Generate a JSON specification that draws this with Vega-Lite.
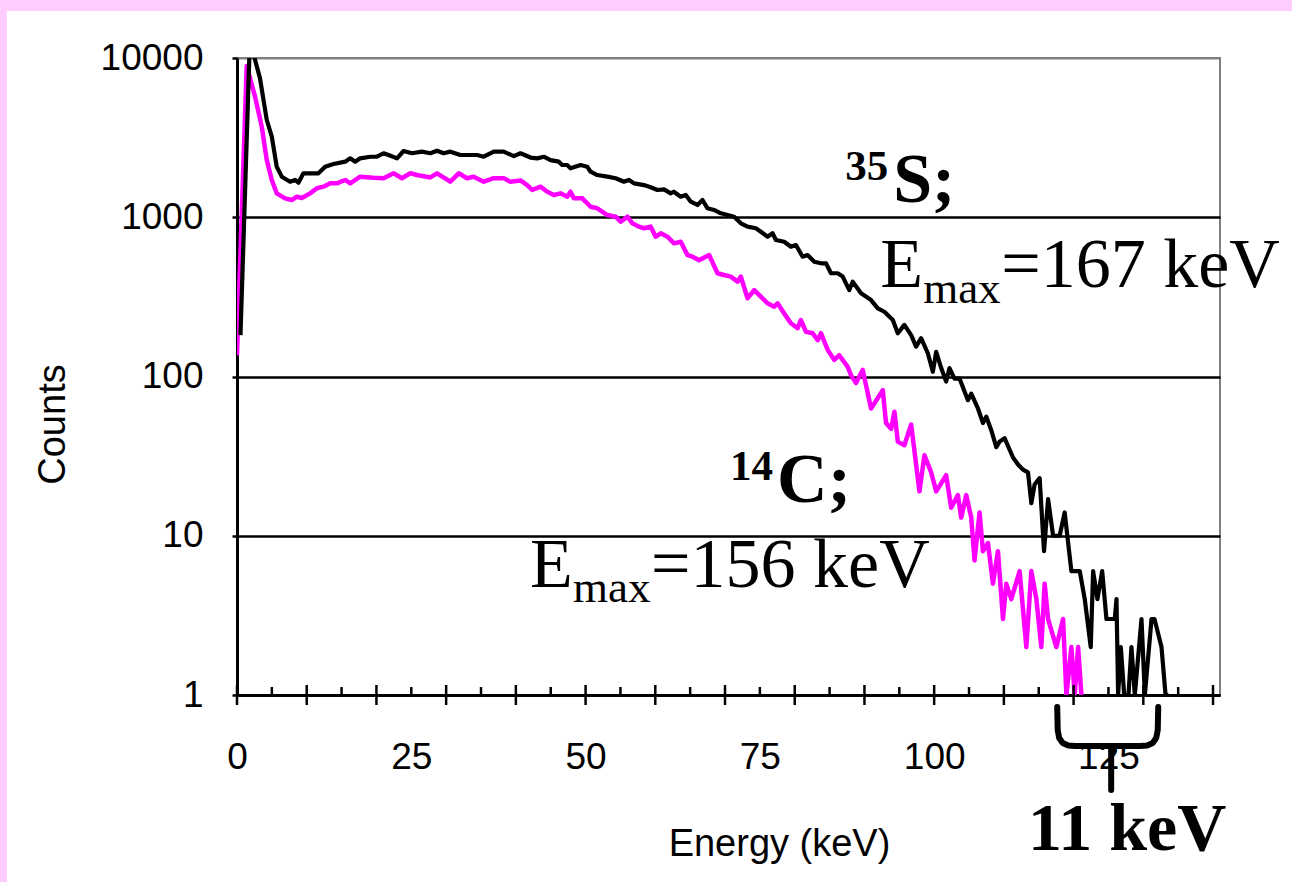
{
  "$schema": "https://vega.github.io/schema/vega-lite/v6.json",
  "width": 983,
  "height": 637,
  "autosize": {"type": "none"},
  "padding": {"left": 237, "top": 58, "right": 72, "bottom": 187},
  "background": "white",
  "config": {
    "view": {"stroke": "#808080", "strokeWidth": 2},
    "axis": {"labelFont": "Liberation Sans", "titleFont": "Liberation Sans", "labelColor": "black", "titleColor": "black"}
  },
  "datasets": {
    "spectra": [
      {"isotope": "35S", "energy": 0.50, "counts": 182},
      {"isotope": "35S", "energy": 1.80, "counts": 11200},
      {"isotope": "35S", "energy": 2.44, "counts": 10300},
      {"isotope": "35S", "energy": 3.30, "counts": 7450},
      {"isotope": "35S", "energy": 4.27, "counts": 4080},
      {"isotope": "35S", "energy": 4.99, "counts": 3205},
      {"isotope": "35S", "energy": 5.70, "counts": 2076},
      {"isotope": "35S", "energy": 6.42, "counts": 1798},
      {"isotope": "35S", "energy": 7.61, "counts": 1672},
      {"isotope": "35S", "energy": 8.33, "counts": 1714},
      {"isotope": "35S", "energy": 8.81, "counts": 1648},
      {"isotope": "35S", "energy": 9.53, "counts": 1888},
      {"isotope": "35S", "energy": 11.68, "counts": 1888},
      {"isotope": "35S", "energy": 12.64, "counts": 2076},
      {"isotope": "35S", "energy": 13.84, "counts": 2158},
      {"isotope": "35S", "energy": 15.52, "counts": 2234},
      {"isotope": "35S", "energy": 16.24, "counts": 2344},
      {"isotope": "35S", "energy": 16.95, "counts": 2234},
      {"isotope": "35S", "energy": 17.67, "counts": 2344},
      {"isotope": "35S", "energy": 19.11, "counts": 2399},
      {"isotope": "35S", "energy": 20.07, "counts": 2399},
      {"isotope": "35S", "energy": 21.02, "counts": 2523},
      {"isotope": "35S", "energy": 21.74, "counts": 2460},
      {"isotope": "35S", "energy": 22.95, "counts": 2344},
      {"isotope": "35S", "energy": 23.89, "counts": 2606},
      {"isotope": "35S", "energy": 25.10, "counts": 2523},
      {"isotope": "35S", "energy": 26.54, "counts": 2582},
      {"isotope": "35S", "energy": 27.73, "counts": 2523},
      {"isotope": "35S", "energy": 28.69, "counts": 2618},
      {"isotope": "35S", "energy": 29.64, "counts": 2523},
      {"isotope": "35S", "energy": 30.60, "counts": 2582},
      {"isotope": "35S", "energy": 32.04, "counts": 2460},
      {"isotope": "35S", "energy": 34.44, "counts": 2460},
      {"isotope": "35S", "energy": 35.39, "counts": 2399},
      {"isotope": "35S", "energy": 36.83, "counts": 2582},
      {"isotope": "35S", "energy": 38.26, "counts": 2582},
      {"isotope": "35S", "energy": 39.70, "counts": 2420},
      {"isotope": "35S", "energy": 40.66, "counts": 2523},
      {"isotope": "35S", "energy": 42.10, "counts": 2371},
      {"isotope": "35S", "energy": 43.06, "counts": 2344},
      {"isotope": "35S", "energy": 44.01, "counts": 2399},
      {"isotope": "35S", "energy": 44.97, "counts": 2286},
      {"isotope": "35S", "energy": 46.16, "counts": 2234},
      {"isotope": "35S", "energy": 46.65, "counts": 2128},
      {"isotope": "35S", "energy": 47.37, "counts": 2128},
      {"isotope": "35S", "energy": 47.84, "counts": 2028},
      {"isotope": "35S", "energy": 49.28, "counts": 2128},
      {"isotope": "35S", "energy": 50.24, "counts": 2076},
      {"isotope": "35S", "energy": 50.72, "counts": 1932},
      {"isotope": "35S", "energy": 51.68, "counts": 1841},
      {"isotope": "35S", "energy": 53.12, "counts": 1798},
      {"isotope": "35S", "energy": 54.31, "counts": 1758},
      {"isotope": "35S", "energy": 55.50, "counts": 1672},
      {"isotope": "35S", "energy": 56.22, "counts": 1714},
      {"isotope": "35S", "energy": 56.94, "counts": 1633},
      {"isotope": "35S", "energy": 58.38, "counts": 1592},
      {"isotope": "35S", "energy": 59.34, "counts": 1542},
      {"isotope": "35S", "energy": 60.30, "counts": 1483},
      {"isotope": "35S", "energy": 61.25, "counts": 1497},
      {"isotope": "35S", "energy": 62.21, "counts": 1413},
      {"isotope": "35S", "energy": 62.64, "counts": 1446},
      {"isotope": "35S", "energy": 63.65, "counts": 1346},
      {"isotope": "35S", "energy": 64.37, "counts": 1380},
      {"isotope": "35S", "energy": 65.09, "counts": 1253},
      {"isotope": "35S", "energy": 66.05, "counts": 1194},
      {"isotope": "35S", "energy": 66.77, "counts": 1283},
      {"isotope": "35S", "energy": 67.49, "counts": 1138},
      {"isotope": "35S", "energy": 68.43, "counts": 1111},
      {"isotope": "35S", "energy": 69.40, "counts": 1059},
      {"isotope": "35S", "energy": 70.36, "counts": 1033},
      {"isotope": "35S", "energy": 71.31, "counts": 1008},
      {"isotope": "35S", "energy": 72.27, "counts": 916},
      {"isotope": "35S", "energy": 73.23, "counts": 873},
      {"isotope": "35S", "energy": 74.43, "counts": 853},
      {"isotope": "35S", "energy": 75.14, "counts": 811},
      {"isotope": "35S", "energy": 76.11, "counts": 755},
      {"isotope": "35S", "energy": 76.82, "counts": 793},
      {"isotope": "35S", "energy": 77.30, "counts": 720},
      {"isotope": "35S", "energy": 78.49, "counts": 702},
      {"isotope": "35S", "energy": 79.45, "counts": 653},
      {"isotope": "35S", "energy": 80.17, "counts": 669},
      {"isotope": "35S", "energy": 81.13, "counts": 565},
      {"isotope": "35S", "energy": 81.85, "counts": 579},
      {"isotope": "35S", "energy": 82.80, "counts": 526},
      {"isotope": "35S", "energy": 83.76, "counts": 514},
      {"isotope": "35S", "energy": 84.48, "counts": 514},
      {"isotope": "35S", "energy": 85.20, "counts": 445},
      {"isotope": "35S", "energy": 86.16, "counts": 445},
      {"isotope": "35S", "energy": 86.88, "counts": 424},
      {"isotope": "35S", "energy": 87.83, "counts": 349},
      {"isotope": "35S", "energy": 88.32, "counts": 394},
      {"isotope": "35S", "energy": 89.51, "counts": 333},
      {"isotope": "35S", "energy": 90.95, "counts": 302},
      {"isotope": "35S", "energy": 91.91, "counts": 268},
      {"isotope": "35S", "energy": 92.86, "counts": 255},
      {"isotope": "35S", "energy": 94.07, "counts": 226},
      {"isotope": "35S", "energy": 94.78, "counts": 187},
      {"isotope": "35S", "energy": 95.73, "counts": 211},
      {"isotope": "35S", "energy": 96.70, "counts": 182},
      {"isotope": "35S", "energy": 97.41, "counts": 154},
      {"isotope": "35S", "energy": 98.13, "counts": 174},
      {"isotope": "35S", "energy": 99.09, "counts": 140},
      {"isotope": "35S", "energy": 99.81, "counts": 107},
      {"isotope": "35S", "energy": 100.29, "counts": 143},
      {"isotope": "35S", "energy": 101.01, "counts": 113},
      {"isotope": "35S", "energy": 101.72, "counts": 93},
      {"isotope": "35S", "energy": 102.20, "counts": 113},
      {"isotope": "35S", "energy": 102.92, "counts": 97},
      {"isotope": "35S", "energy": 103.64, "counts": 97},
      {"isotope": "35S", "energy": 104.84, "counts": 71},
      {"isotope": "35S", "energy": 105.32, "counts": 78},
      {"isotope": "35S", "energy": 106.28, "counts": 63},
      {"isotope": "35S", "energy": 107.00, "counts": 51},
      {"isotope": "35S", "energy": 107.47, "counts": 56},
      {"isotope": "35S", "energy": 108.19, "counts": 46},
      {"isotope": "35S", "energy": 108.91, "counts": 36},
      {"isotope": "35S", "energy": 109.38, "counts": 39},
      {"isotope": "35S", "energy": 110.10, "counts": 41},
      {"isotope": "35S", "energy": 111.31, "counts": 31},
      {"isotope": "35S", "energy": 112.03, "counts": 28},
      {"isotope": "35S", "energy": 112.74, "counts": 26},
      {"isotope": "35S", "energy": 113.46, "counts": 25},
      {"isotope": "35S", "energy": 113.94, "counts": 16},
      {"isotope": "35S", "energy": 114.41, "counts": 21},
      {"isotope": "35S", "energy": 115.13, "counts": 23},
      {"isotope": "35S", "energy": 115.76, "counts": 8},
      {"isotope": "35S", "energy": 116.34, "counts": 17},
      {"isotope": "35S", "energy": 117.06, "counts": 10},
      {"isotope": "35S", "energy": 118.00, "counts": 10},
      {"isotope": "35S", "energy": 118.72, "counts": 14},
      {"isotope": "35S", "energy": 119.68, "counts": 6},
      {"isotope": "35S", "energy": 120.88, "counts": 6},
      {"isotope": "35S", "energy": 121.60, "counts": 4},
      {"isotope": "35S", "energy": 122.46, "counts": 2},
      {"isotope": "35S", "energy": 122.80, "counts": 6},
      {"isotope": "35S", "energy": 123.42, "counts": 4},
      {"isotope": "35S", "energy": 124.10, "counts": 6},
      {"isotope": "35S", "energy": 124.71, "counts": 3},
      {"isotope": "35S", "energy": 125.91, "counts": 3},
      {"isotope": "35S", "energy": 126.15, "counts": 4},
      {"isotope": "35S", "energy": 126.39, "counts": 1},
      {"isotope": "35S", "energy": 126.77, "counts": 2},
      {"isotope": "35S", "energy": 127.26, "counts": 1},
      {"isotope": "35S", "energy": 127.87, "counts": 1},
      {"isotope": "35S", "energy": 128.30, "counts": 2},
      {"isotope": "35S", "energy": 128.78, "counts": 1},
      {"isotope": "35S", "energy": 129.74, "counts": 3},
      {"isotope": "35S", "energy": 130.22, "counts": 1},
      {"isotope": "35S", "energy": 131.18, "counts": 3},
      {"isotope": "35S", "energy": 131.60, "counts": 3},
      {"isotope": "35S", "energy": 132.61, "counts": 2},
      {"isotope": "35S", "energy": 133.19, "counts": 1},
      {"isotope": "35S", "energy": 133.60, "counts": 1},
      {"isotope": "14C", "energy": 0.00, "counts": 136},
      {"isotope": "14C", "energy": 1.39, "counts": 8900},
      {"isotope": "14C", "energy": 2.59, "counts": 5715},
      {"isotope": "14C", "energy": 3.55, "counts": 3707},
      {"isotope": "14C", "energy": 4.27, "counts": 2286},
      {"isotope": "14C", "energy": 4.99, "counts": 1714},
      {"isotope": "14C", "energy": 5.70, "counts": 1413},
      {"isotope": "14C", "energy": 6.90, "counts": 1315},
      {"isotope": "14C", "energy": 7.86, "counts": 1283},
      {"isotope": "14C", "energy": 8.58, "counts": 1346},
      {"isotope": "14C", "energy": 9.30, "counts": 1321},
      {"isotope": "14C", "energy": 10.49, "counts": 1413},
      {"isotope": "14C", "energy": 11.45, "counts": 1521},
      {"isotope": "14C", "energy": 12.40, "counts": 1556},
      {"isotope": "14C", "energy": 13.36, "counts": 1633},
      {"isotope": "14C", "energy": 14.32, "counts": 1633},
      {"isotope": "14C", "energy": 15.52, "counts": 1714},
      {"isotope": "14C", "energy": 16.24, "counts": 1633},
      {"isotope": "14C", "energy": 17.67, "counts": 1798},
      {"isotope": "14C", "energy": 19.58, "counts": 1771},
      {"isotope": "14C", "energy": 21.02, "counts": 1758},
      {"isotope": "14C", "energy": 22.46, "counts": 1888},
      {"isotope": "14C", "energy": 23.66, "counts": 1758},
      {"isotope": "14C", "energy": 24.86, "counts": 1888},
      {"isotope": "14C", "energy": 25.82, "counts": 1841},
      {"isotope": "14C", "energy": 27.73, "counts": 1778},
      {"isotope": "14C", "energy": 28.69, "counts": 1888},
      {"isotope": "14C", "energy": 30.60, "counts": 1672},
      {"isotope": "14C", "energy": 31.80, "counts": 1888},
      {"isotope": "14C", "energy": 33.00, "counts": 1758},
      {"isotope": "14C", "energy": 33.95, "counts": 1798},
      {"isotope": "14C", "energy": 35.39, "counts": 1672},
      {"isotope": "14C", "energy": 36.83, "counts": 1758},
      {"isotope": "14C", "energy": 38.26, "counts": 1758},
      {"isotope": "14C", "energy": 39.22, "counts": 1672},
      {"isotope": "14C", "energy": 40.66, "counts": 1702},
      {"isotope": "14C", "energy": 41.62, "counts": 1592},
      {"isotope": "14C", "energy": 42.34, "counts": 1483},
      {"isotope": "14C", "energy": 43.53, "counts": 1556},
      {"isotope": "14C", "energy": 44.50, "counts": 1446},
      {"isotope": "14C", "energy": 45.45, "counts": 1380},
      {"isotope": "14C", "energy": 46.41, "counts": 1413},
      {"isotope": "14C", "energy": 47.37, "counts": 1346},
      {"isotope": "14C", "energy": 47.84, "counts": 1446},
      {"isotope": "14C", "energy": 48.32, "counts": 1315},
      {"isotope": "14C", "energy": 49.53, "counts": 1315},
      {"isotope": "14C", "energy": 50.72, "counts": 1164},
      {"isotope": "14C", "energy": 51.68, "counts": 1138},
      {"isotope": "14C", "energy": 53.12, "counts": 1033},
      {"isotope": "14C", "energy": 54.31, "counts": 1008},
      {"isotope": "14C", "energy": 55.03, "counts": 937},
      {"isotope": "14C", "energy": 55.99, "counts": 1008},
      {"isotope": "14C", "energy": 56.71, "counts": 916},
      {"isotope": "14C", "energy": 57.66, "counts": 873},
      {"isotope": "14C", "energy": 58.38, "counts": 853},
      {"isotope": "14C", "energy": 59.34, "counts": 873},
      {"isotope": "14C", "energy": 60.06, "counts": 755},
      {"isotope": "14C", "energy": 60.78, "counts": 793},
      {"isotope": "14C", "energy": 61.74, "counts": 755},
      {"isotope": "14C", "energy": 62.69, "counts": 686},
      {"isotope": "14C", "energy": 63.65, "counts": 702},
      {"isotope": "14C", "energy": 64.61, "counts": 579},
      {"isotope": "14C", "energy": 65.33, "counts": 565},
      {"isotope": "14C", "energy": 66.28, "counts": 538},
      {"isotope": "14C", "energy": 67.72, "counts": 579},
      {"isotope": "14C", "energy": 68.92, "counts": 445},
      {"isotope": "14C", "energy": 69.87, "counts": 434},
      {"isotope": "14C", "energy": 70.83, "counts": 424},
      {"isotope": "14C", "energy": 71.80, "counts": 394},
      {"isotope": "14C", "energy": 72.27, "counts": 424},
      {"isotope": "14C", "energy": 73.23, "counts": 310},
      {"isotope": "14C", "energy": 74.18, "counts": 349},
      {"isotope": "14C", "energy": 75.14, "counts": 317},
      {"isotope": "14C", "energy": 76.11, "counts": 288},
      {"isotope": "14C", "energy": 77.05, "counts": 274},
      {"isotope": "14C", "energy": 77.54, "counts": 288},
      {"isotope": "14C", "energy": 78.49, "counts": 249},
      {"isotope": "14C", "energy": 79.45, "counts": 216},
      {"isotope": "14C", "energy": 80.42, "counts": 201},
      {"isotope": "14C", "energy": 80.89, "counts": 226},
      {"isotope": "14C", "energy": 81.61, "counts": 191},
      {"isotope": "14C", "energy": 82.57, "counts": 187},
      {"isotope": "14C", "energy": 83.29, "counts": 169},
      {"isotope": "14C", "energy": 83.76, "counts": 187},
      {"isotope": "14C", "energy": 84.73, "counts": 147},
      {"isotope": "14C", "energy": 85.67, "counts": 127},
      {"isotope": "14C", "energy": 86.39, "counts": 136},
      {"isotope": "14C", "energy": 87.60, "counts": 115},
      {"isotope": "14C", "energy": 88.07, "counts": 102},
      {"isotope": "14C", "energy": 88.79, "counts": 91},
      {"isotope": "14C", "energy": 89.75, "counts": 110},
      {"isotope": "14C", "energy": 90.95, "counts": 63},
      {"isotope": "14C", "energy": 92.63, "counts": 82},
      {"isotope": "14C", "energy": 93.10, "counts": 51},
      {"isotope": "14C", "energy": 93.82, "counts": 47},
      {"isotope": "14C", "energy": 94.30, "counts": 60},
      {"isotope": "14C", "energy": 94.78, "counts": 39},
      {"isotope": "14C", "energy": 95.73, "counts": 37},
      {"isotope": "14C", "energy": 96.70, "counts": 50},
      {"isotope": "14C", "energy": 97.89, "counts": 19},
      {"isotope": "14C", "energy": 98.61, "counts": 32},
      {"isotope": "14C", "energy": 99.57, "counts": 25},
      {"isotope": "14C", "energy": 100.29, "counts": 19},
      {"isotope": "14C", "energy": 101.72, "counts": 24},
      {"isotope": "14C", "energy": 102.44, "counts": 15},
      {"isotope": "14C", "energy": 103.40, "counts": 18},
      {"isotope": "14C", "energy": 103.88, "counts": 13},
      {"isotope": "14C", "energy": 104.60, "counts": 18},
      {"isotope": "14C", "energy": 105.32, "counts": 13},
      {"isotope": "14C", "energy": 105.79, "counts": 7},
      {"isotope": "14C", "energy": 106.51, "counts": 14},
      {"isotope": "14C", "energy": 107.00, "counts": 8},
      {"isotope": "14C", "energy": 107.72, "counts": 9},
      {"isotope": "14C", "energy": 108.43, "counts": 5},
      {"isotope": "14C", "energy": 109.15, "counts": 8},
      {"isotope": "14C", "energy": 109.87, "counts": 3},
      {"isotope": "14C", "energy": 110.34, "counts": 5},
      {"isotope": "14C", "energy": 111.06, "counts": 4},
      {"isotope": "14C", "energy": 112.26, "counts": 6},
      {"isotope": "14C", "energy": 113.22, "counts": 2},
      {"isotope": "14C", "energy": 113.94, "counts": 6},
      {"isotope": "14C", "energy": 114.66, "counts": 4},
      {"isotope": "14C", "energy": 115.37, "counts": 2},
      {"isotope": "14C", "energy": 115.85, "counts": 5},
      {"isotope": "14C", "energy": 116.34, "counts": 3},
      {"isotope": "14C", "energy": 117.53, "counts": 2},
      {"isotope": "14C", "energy": 118.49, "counts": 3},
      {"isotope": "14C", "energy": 118.97, "counts": 1},
      {"isotope": "14C", "energy": 119.68, "counts": 2},
      {"isotope": "14C", "energy": 120.16, "counts": 1},
      {"isotope": "14C", "energy": 120.65, "counts": 2},
      {"isotope": "14C", "energy": 121.12, "counts": 1}
    ],
    "ticks": [
      {"e": 0}, {"e": 5}, {"e": 10}, {"e": 15}, {"e": 20}, {"e": 25}, {"e": 30}, {"e": 35}, {"e": 40}, {"e": 45},
      {"e": 50}, {"e": 55}, {"e": 60}, {"e": 65}, {"e": 70}, {"e": 75}, {"e": 80}, {"e": 85}, {"e": 90}, {"e": 95},
      {"e": 100}, {"e": 105}, {"e": 110}, {"e": 115}, {"e": 120}, {"e": 125}, {"e": 130}, {"e": 135}, {"e": 140}
    ],
    "brace": [
      {"part": "arc", "o": 1, "e": 117.65, "c": 0.8406},
      {"part": "arc", "o": 2, "e": 117.72, "c": 0.6028},
      {"part": "arc", "o": 3, "e": 117.93, "c": 0.5370},
      {"part": "arc", "o": 4, "e": 118.44, "c": 0.4995},
      {"part": "arc", "o": 5, "e": 119.23, "c": 0.4819},
      {"part": "arc", "o": 6, "e": 120.23, "c": 0.4784},
      {"part": "arc", "o": 7, "e": 129.56, "c": 0.4784},
      {"part": "arc", "o": 8, "e": 130.56, "c": 0.4819},
      {"part": "arc", "o": 9, "e": 131.35, "c": 0.4995},
      {"part": "arc", "o": 10, "e": 131.85, "c": 0.5370},
      {"part": "arc", "o": 11, "e": 132.07, "c": 0.6028},
      {"part": "arc", "o": 12, "e": 132.14, "c": 0.8406},
      {"part": "stem", "o": 1, "e": 125.39, "c": 0.4784},
      {"part": "stem", "o": 2, "e": 125.39, "c": 0.2532}
    ]
  },
  "layer": [
    {
      "data": {"values": [{}]},
      "mark": {"type": "rect", "fill": "#FFCCFF"},
      "encoding": {
        "x": {"datum": -40, "type": "quantitative"},
        "x2": {"datum": 170},
        "y": {"datum": 1000000, "type": "quantitative"},
        "y2": {"datum": 19732}
      }
    },
    {
      "data": {"values": [{}]},
      "mark": {"type": "rect", "fill": "#FFCCFF"},
      "encoding": {
        "x": {"datum": -40, "type": "quantitative"},
        "x2": {"datum": -33.0},
        "y": {"datum": 1000000, "type": "quantitative"},
        "y2": {"datum": 0.000001}
      }
    },
    {
      "data": {"name": "spectra"},
      "transform": [{"filter": "datum.isotope === '14C'"}],
      "mark": {"type": "line", "color": "#FF00FF", "strokeWidth": 4.5, "strokeJoin": "round", "clip": true},
      "encoding": {
        "x": {
          "field": "energy", "type": "quantitative",
          "scale": {"domain": [0, 141], "nice": false, "zero": false},
          "axis": {
            "values": [0, 25, 50, 75, 100, 125], "format": "d", "ticks": false, "grid": false,
            "domainColor": "black", "domainWidth": 3,
            "labelFontSize": 37, "labelPadding": 44, "labelFlush": false, "labelOverlap": false,
            "title": "Energy (keV)", "titleFontSize": 38, "titleFontWeight": "normal",
            "titleX": 542, "titleY": 160, "titleAlign": "center", "titleBaseline": "alphabetic"
          }
        },
        "y": {
          "field": "counts", "type": "quantitative",
          "scale": {"type": "log", "domain": [1, 10000], "nice": false},
          "axis": {
            "values": [1, 10, 100, 1000, 10000], "format": "d",
            "grid": true,
            "gridColor": {"condition": {"test": "datum.value >= 10000", "value": "#808080"}, "value": "black"},
            "gridWidth": {"condition": {"test": "datum.value >= 10000", "value": 2}, "value": 2.5},
            "ticks": true, "tickSize": 5, "tickWidth": 2.5, "tickColor": "black",
            "domainColor": "black", "domainWidth": 3,
            "labelFontSize": 37, "labelPadding": 29, "labelOverlap": false,
            "title": "Counts", "titleFontSize": 38, "titleFontWeight": "normal",
            "titleAngle": -90, "titleX": -184, "titleY": 366, "titleAlign": "center", "titleBaseline": "middle"
          }
        },
        "order": {"field": "energy"}
      }
    },
    {
      "data": {"name": "spectra"},
      "transform": [{"filter": "datum.isotope === '35S'"}],
      "mark": {"type": "line", "color": "black", "strokeWidth": 4.2, "strokeJoin": "round", "clip": true},
      "encoding": {
        "x": {"field": "energy", "type": "quantitative"},
        "y": {"field": "counts", "type": "quantitative"},
        "order": {"field": "energy"}
      }
    },
    {
      "data": {"name": "ticks"},
      "transform": [{"filter": "datum.e % 10 === 0"}],
      "mark": {"type": "tick", "orient": "vertical", "size": 20, "thickness": 2.5, "color": "black", "opacity": 1},
      "encoding": {
        "x": {"field": "e", "type": "quantitative"},
        "y": {"datum": 1, "type": "quantitative"}
      }
    },
    {
      "data": {"name": "ticks"},
      "transform": [{"filter": "datum.e % 10 !== 0"}],
      "mark": {"type": "tick", "orient": "vertical", "size": 8, "thickness": 2.5, "yOffset": -4, "color": "black", "opacity": 1},
      "encoding": {
        "x": {"field": "e", "type": "quantitative"},
        "y": {"datum": 1, "type": "quantitative"}
      }
    },
    {
      "data": {"name": "brace"},
      "mark": {"type": "line", "color": "black", "strokeWidth": 6, "strokeCap": "round", "strokeJoin": "round", "clip": false},
      "encoding": {
        "x": {"field": "e", "type": "quantitative"},
        "y": {"field": "c", "type": "quantitative"},
        "detail": {"field": "part"},
        "order": {"field": "o"}
      }
    },
    {
      "data": {"values": [{}]},
      "mark": {"type": "text", "text": "35", "font": "Liberation Serif", "fontWeight": "bold", "fontSize": 43, "align": "left", "baseline": "alphabetic", "color": "black"},
      "encoding": {"x": {"datum": 87.23, "type": "quantitative"}, "y": {"datum": 1713.5, "type": "quantitative"}}
    },
    {
      "data": {"values": [{}]},
      "mark": {"type": "text", "text": "S;", "font": "Liberation Serif", "fontWeight": "bold", "fontSize": 70, "align": "left", "baseline": "alphabetic", "color": "black"},
      "encoding": {"x": {"datum": 94.12, "type": "quantitative"}, "y": {"datum": 1246.5, "type": "quantitative"}}
    },
    {
      "data": {"values": [{}]},
      "mark": {"type": "text", "text": "E", "font": "Liberation Serif", "fontSize": 70, "align": "left", "baseline": "alphabetic", "color": "black"},
      "encoding": {"x": {"datum": 92.25, "type": "quantitative"}, "y": {"datum": 364.8, "type": "quantitative"}}
    },
    {
      "data": {"values": [{}]},
      "mark": {"type": "text", "text": "max", "font": "Liberation Serif", "fontSize": 45, "align": "left", "baseline": "alphabetic", "color": "black"},
      "encoding": {"x": {"datum": 98.42, "type": "quantitative"}, "y": {"datum": 289.3, "type": "quantitative"}}
    },
    {
      "data": {"values": [{}]},
      "mark": {"type": "text", "text": "=167 keV", "font": "Liberation Serif", "fontSize": 70, "align": "left", "baseline": "alphabetic", "color": "black"},
      "encoding": {"x": {"datum": 109.61, "type": "quantitative"}, "y": {"datum": 364.8, "type": "quantitative"}}
    },
    {
      "data": {"values": [{}]},
      "mark": {"type": "text", "text": "14", "font": "Liberation Serif", "fontWeight": "bold", "fontSize": 43, "align": "left", "baseline": "alphabetic", "color": "black"},
      "encoding": {"x": {"datum": 70.73, "type": "quantitative"}, "y": {"datum": 22.39, "type": "quantitative"}}
    },
    {
      "data": {"values": [{}]},
      "mark": {"type": "text", "text": "C;", "font": "Liberation Serif", "fontWeight": "bold", "fontSize": 70, "align": "left", "baseline": "alphabetic", "color": "black"},
      "encoding": {"x": {"datum": 77.47, "type": "quantitative"}, "y": {"datum": 16.29, "type": "quantitative"}}
    },
    {
      "data": {"values": [{}]},
      "mark": {"type": "text", "text": "E", "font": "Liberation Serif", "fontSize": 70, "align": "left", "baseline": "alphabetic", "color": "black"},
      "encoding": {"x": {"datum": 42.04, "type": "quantitative"}, "y": {"datum": 4.767, "type": "quantitative"}}
    },
    {
      "data": {"values": [{}]},
      "mark": {"type": "text", "text": "max", "font": "Liberation Serif", "fontSize": 45, "align": "left", "baseline": "alphabetic", "color": "black"},
      "encoding": {"x": {"datum": 48.21, "type": "quantitative"}, "y": {"datum": 3.837, "type": "quantitative"}}
    },
    {
      "data": {"values": [{}]},
      "mark": {"type": "text", "text": "=156 keV", "font": "Liberation Serif", "fontSize": 70, "align": "left", "baseline": "alphabetic", "color": "black"},
      "encoding": {"x": {"datum": 59.40, "type": "quantitative"}, "y": {"datum": 4.767, "type": "quantitative"}}
    },
    {
      "data": {"values": [{}]},
      "mark": {"type": "text", "text": "11 keV", "font": "Liberation Serif", "fontWeight": "bold", "fontSize": 68, "align": "center", "baseline": "alphabetic", "color": "black"},
      "encoding": {"x": {"datum": 127.69, "type": "quantitative"}, "y": {"datum": 0.1063, "type": "quantitative"}}
    }
  ]
}
